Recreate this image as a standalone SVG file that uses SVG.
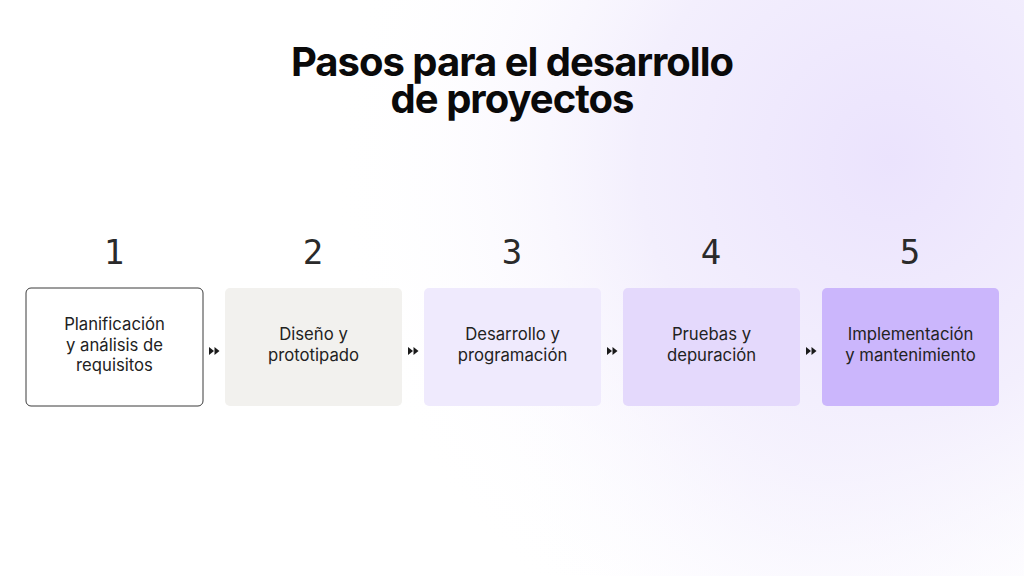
<svg xmlns="http://www.w3.org/2000/svg" width="1024" height="576" viewBox="0 0 1024 576">
<defs>
<radialGradient id="bg1" cx="890" cy="160" r="560" gradientUnits="userSpaceOnUse">
<stop offset="0" stop-color="#ebe3fd"/>
<stop offset="0.45" stop-color="#f3effd"/>
<stop offset="1" stop-color="#ffffff" stop-opacity="0"/>
</radialGradient>
<radialGradient id="bg2" cx="820" cy="420" r="320" gradientUnits="userSpaceOnUse">
<stop offset="0" stop-color="#f1ecfd"/>
<stop offset="1" stop-color="#ffffff" stop-opacity="0"/>
</radialGradient>
<g id="arr"><path d="M0 -4 L5 0 L0 4 Z M5.5 -4 L10.5 0 L5.5 4 Z" fill="#1a1a1a"/></g>
<style>
.title{font-family:Inter,"Liberation Sans",Arial,sans-serif;font-weight:bold;font-size:40px;fill:#0a0a0a;text-anchor:middle;letter-spacing:-1px}
.num{font-family:"DejaVu Sans Mono","Liberation Mono",monospace;font-size:34px;fill:#2a2a2a;text-anchor:middle}
.lbl{font-family:Inter,"Liberation Sans",Arial,sans-serif;font-size:16.7px;fill:#222;text-anchor:middle}
</style>
</defs>
<rect width="1024" height="576" fill="#ffffff"/>
<rect width="1024" height="576" fill="url(#bg2)"/>
<rect width="1024" height="576" fill="url(#bg1)"/>
<g id="title">
<text class="title" x="512" y="76">Pasos para el desarrollo</text>
<text class="title" x="512" y="113">de proyectos</text>
</g>
<g id="step1">
<text class="num" x="114" y="264">1</text>
<rect x="26" y="288" width="177" height="118" rx="5" fill="#ffffff" stroke="#3a3a3a" stroke-width="1"/>
<text class="lbl" x="114.5" y="330">Planificación</text>
<text class="lbl" x="114.5" y="351">y análisis de</text>
<text class="lbl" x="114.5" y="371">requisitos</text>
</g>
<g id="step2">
<text class="num" x="313" y="264">2</text>
<rect x="225" y="288" width="177" height="118" rx="5" fill="#f2f1ee"/>
<text class="lbl" x="313.5" y="340">Diseño y</text>
<text class="lbl" x="313.5" y="361">prototipado</text>
</g>
<g id="step3">
<text class="num" x="512" y="264">3</text>
<rect x="424" y="288" width="177" height="118" rx="5" fill="#efeafd"/>
<text class="lbl" x="512.5" y="340">Desarrollo y</text>
<text class="lbl" x="512.5" y="361">programación</text>
</g>
<g id="step4">
<text class="num" x="711" y="264">4</text>
<rect x="623" y="288" width="177" height="118" rx="5" fill="#e4d9fc"/>
<text class="lbl" x="711.5" y="340">Pruebas y</text>
<text class="lbl" x="711.5" y="361">depuración</text>
</g>
<g id="step5">
<text class="num" x="910" y="264">5</text>
<rect x="822" y="288" width="177" height="118" rx="5" fill="#cbb6fc"/>
<text class="lbl" x="910.5" y="340">Implementación</text>
<text class="lbl" x="910.5" y="361">y mantenimiento</text>
</g>
<g id="connectors">
<use href="#arr" x="209" y="351"/>
<use href="#arr" x="408" y="351"/>
<use href="#arr" x="607" y="351"/>
<use href="#arr" x="806" y="351"/>
</g>
</svg>
